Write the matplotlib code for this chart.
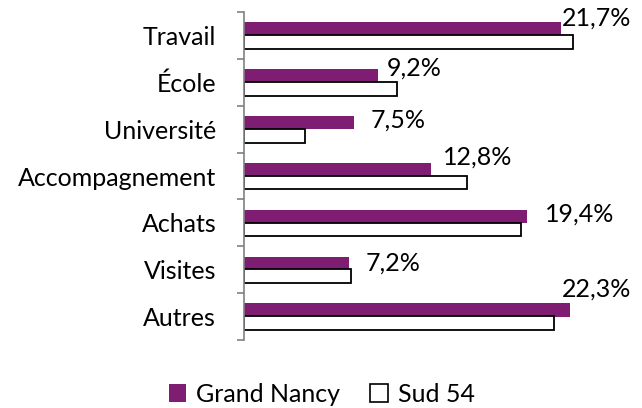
import matplotlib
matplotlib.use("Agg")
import matplotlib.pyplot as plt
from matplotlib.patches import Patch
import numpy as np

plt.rcParams['font.family'] = ['Lato', 'DejaVu Sans']

categories = ["Travail", "École", "Université", "Accompagnement", "Achats", "Visites", "Autres"]
grand_nancy = [21.7, 9.2, 7.5, 12.8, 19.4, 7.2, 22.3]
sud_54 = [22.5, 10.5, 4.2, 15.3, 19.0, 7.3, 21.2]
labels = ["21,7%", "9,2%", "7,5%", "12,8%", "19,4%", "7,2%", "22,3%"]
# label placement offsets (x in %, y in category units) relative to Grand Nancy bar end
label_dx = [0.1, 0.6, 1.2, 0.8, 1.2, 1.1, -0.5]
label_dy = [-0.36, -0.3, -0.2, -0.4, -0.18, -0.15, -0.58]

purple = '#7E1D72'
FS = 18

fig = plt.figure(figsize=(6.42, 4.08), dpi=100)
ax = fig.add_axes([244/642, 1-340/408, 365/642, 328/408])

y = np.arange(len(categories))
h = 0.28
ax.barh(y - h/2, grand_nancy, height=h, color=purple, edgecolor='none', label='Grand Nancy')
ax.barh(y + h/2, sud_54, height=h*1.05, color='white', edgecolor='black', linewidth=1.3, label='Sud 54')

for i, (v, s) in enumerate(zip(grand_nancy, labels)):
    ax.text(v + label_dx[i], y[i] - h + label_dy[i] + 0.28, s, ha='left', va='center', fontsize=FS, color='black')

ax.set_xlim(0, 25)
ax.set_ylim(len(categories) - 0.5, -0.5)
ax.set_yticks(np.arange(len(categories) + 1) - 0.5, minor=False)
ax.set_yticklabels([])
ax.set_yticks(y, minor=True)
ax.set_yticklabels(categories, minor=True, fontsize=FS)
ax.tick_params(axis='y', which='major', length=5, color='#808080', width=1.2, direction='out')
ax.tick_params(axis='y', which='minor', length=0, pad=20)
ax.set_xticks([])
for sp in ['top', 'right', 'bottom']:
    ax.spines[sp].set_visible(False)
ax.spines['left'].set_color('#808080')
ax.spines['left'].set_linewidth(1.2)

handles = [Patch(facecolor=purple, edgecolor='none', label='Grand Nancy'),
           Patch(facecolor='white', edgecolor='black', linewidth=1.2, label='Sud 54')]
fig.legend(handles=handles, loc='center', bbox_to_anchor=(322/642, 1-394/408), ncol=2,
           frameon=False, fontsize=FS, handlelength=0.7, handleheight=0.7,
           handletextpad=0.4, columnspacing=1.2)

fig.savefig('out.png', dpi=100)
